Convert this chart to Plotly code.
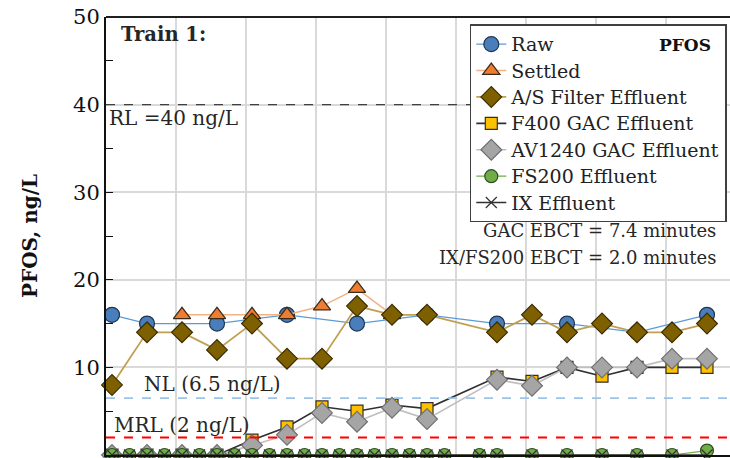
import plotly.graph_objects as go

# Sampling days (x) and PFOS concentrations (ng/L)
raw_x = [0.6, 4.1, 11.1, 18.1, 25.1, 32.1, 39.1, 46.1, 53.1, 60.1]
raw_y = [16, 15, 15, 16, 15, 16, 15, 15, 14, 16]

settled_x = [7.6, 11.1, 14.6, 18.1, 21.6, 25.1, 28.6]
settled_y = [16, 16, 16, 16, 17, 19, 16]

as_x = [0.6, 4.1, 7.6, 11.1, 14.6, 18.1, 21.6, 25.1, 28.6, 32.1, 39.1, 42.6, 46.1, 49.6, 53.1, 56.6, 60.1]
as_y = [8, 14, 14, 12, 15, 11, 11, 17, 16, 16, 14, 16, 14, 15, 14, 14, 15]

gac_x = [0.6, 4.1, 7.6, 11.1, 14.6, 18.1, 21.6, 25.1, 28.6, 32.1, 39.1, 42.6, 46.1, 49.6, 53.1, 56.6, 60.1]
f400_y = [0, 0, 0, 0, 1.7, 3.2, 5.5, 5.0, 5.7, 5.3, 8.9, 8.4, 10, 9, 10, 10, 10]
av1240_y = [0, 0, 0, 0, 1.1, 2.3, 4.8, 3.8, 5.4, 4.1, 8.6, 7.9, 10, 10, 10, 11, 11]

ix_x = [0.6, 2.35, 4.1, 5.85, 7.6, 9.35, 11.1, 12.85, 14.6, 16.35, 18.1, 19.85, 21.6, 23.35,
        25.1, 26.85, 28.6, 30.35, 32.1, 33.85, 37.35, 39.1, 42.6, 46.1, 49.6, 53.1, 56.6, 60.1]
fs200_y = [0] * 27 + [0.5]
ix_y = [0] * 28

y_ticks = [0, 10, 20, 30, 40, 50]
rl, nl, mrl = 40, 6.5, 2

FONT = "DejaVu Serif"
FS = 18

fig = go.Figure()

def lbl(name):
    return f'<span style="font-size:19px">{name}</span>'

def add(name, x, y, lcolor, lwidth, symbol, fill, edge, size):
    fig.add_trace(go.Scatter(
        x=x, y=y, name=lbl(name), mode="lines+markers",
        line=dict(color=lcolor, width=lwidth),
        marker=dict(symbol=symbol, color=fill, size=size,
                    line=dict(color=edge, width=1.2)),
        cliponaxis=False,
    ))

add("Raw", raw_x, raw_y, "#5B9BD5", 1.2, "circle", "#4A7EBB", "#1F3550", 15)
add("Settled", settled_x, settled_y, "#F4B183", 1.5, "triangle-up", "#ED7D31", "#3A2A1A", 15)
add("A/S Filter Effluent", as_x, as_y, "#C0A050", 1.8, "diamond", "#7F6000", "#3A2C00", 16)
add("F400 GAC Effluent", gac_x, f400_y, "#303030", 1.6, "square", "#FFC000", "#303030", 12)
add("AV1240 GAC Effluent", gac_x, av1240_y, "#BFBFBF", 1.6, "diamond", "#A5A5A5", "#6F6F6F", 16)
add("FS200 Effluent", ix_x, fs200_y, "#70AD47", 1.2, "circle", "#70AD47", "#2F4F1F", 13)
fig.add_trace(go.Scatter(
    x=ix_x, y=ix_y, name=lbl("IX Effluent"), mode="lines+markers",
    line=dict(color="#303030", width=1.5),
    marker=dict(symbol="x-thin", size=11, color="#303030",
                line=dict(color="#303030", width=1.2)),
    cliponaxis=False,
))

# reference lines
fig.add_hline(y=rl, line=dict(color="#404040", width=1.2, dash="dash"))
fig.add_hline(y=nl, line=dict(color="#9DC3E6", width=1.8, dash="dash"))
fig.add_hline(y=mrl, line=dict(color="#FF0000", width=1.8, dash="dash"))
# top border
fig.add_shape(type="line", xref="paper", yref="paper", x0=0, x1=1, y0=1, y1=1,
              line=dict(color="#202020", width=2))

tc = "#262626"
def ann(text, x, y, xa, size, bold=False):
    fig.add_annotation(x=x, y=y, xref="x", yref="y", text=(f"<b>{text}</b>" if bold else text),
                       showarrow=False, xanchor=xa, yanchor="middle",
                       font=dict(family=FONT, size=size, color=tc))

ann("Train 1:", 1.3, 48.0, "left", 19.5, bold=True)
ann("RL =40 ng/L", 0.1, 38.5, "left", 20)
ann("NL (6.5 ng/L)", 3.6, 8.1, "left", 20)
ann("MRL (2 ng/L)", 0.6, 3.4, "left", 20)
ann("GAC EBCT = 7.4 minutes", 61.2, 25.6, "right", 18)
ann("IX/FS200 EBCT = 2.0 minutes", 61.2, 22.5, "right", 18)

fig.update_layout(
    width=730, height=458,
    margin=dict(l=106, r=0, t=17, b=3, autoexpand=False),
    paper_bgcolor="white", plot_bgcolor="white",
    font=dict(family=FONT, size=FS, color="#111111"),
    showlegend=True,
    legend=dict(x=0.583, y=0.983, xanchor="left", yanchor="top",
                bgcolor="white", bordercolor="#404040", borderwidth=1.5,
                font=dict(family=FONT, size=FS, color="#222222"),
                itemwidth=30, tracegroupgap=0),
    xaxis=dict(range=[0, 62.4], dtick=7, tick0=0, showgrid=True,
               gridcolor="#D9D9D9", gridwidth=1.5, showticklabels=False,
               showline=True, linecolor="#111111", linewidth=2, zeroline=False),
    yaxis=dict(range=[0, 50], tickvals=y_ticks, showgrid=True,
               gridcolor="#D9D9D9", gridwidth=1.5, ticks="inside", ticklen=7,
               tickcolor="#111111",
               minor=dict(dtick=5, ticks="inside", ticklen=7, tickcolor="#111111", showgrid=False),
               showline=True, linecolor="#111111", linewidth=2, zeroline=False,
               tickfont=dict(family=FONT, size=21, color="#111111"),
               title=dict(text="<b>PFOS, ng/L</b>", font=dict(family=FONT, size=20, color="#111111"),
                          standoff=30)),
)

fig.add_annotation(x=0.973, y=0.937, xref="paper", yref="paper", text="<b>PFOS</b>",
                   showarrow=False, xanchor="right", yanchor="middle",
                   font=dict(family=FONT, size=17, color="#111111"))

fig.write_html("out.html")
